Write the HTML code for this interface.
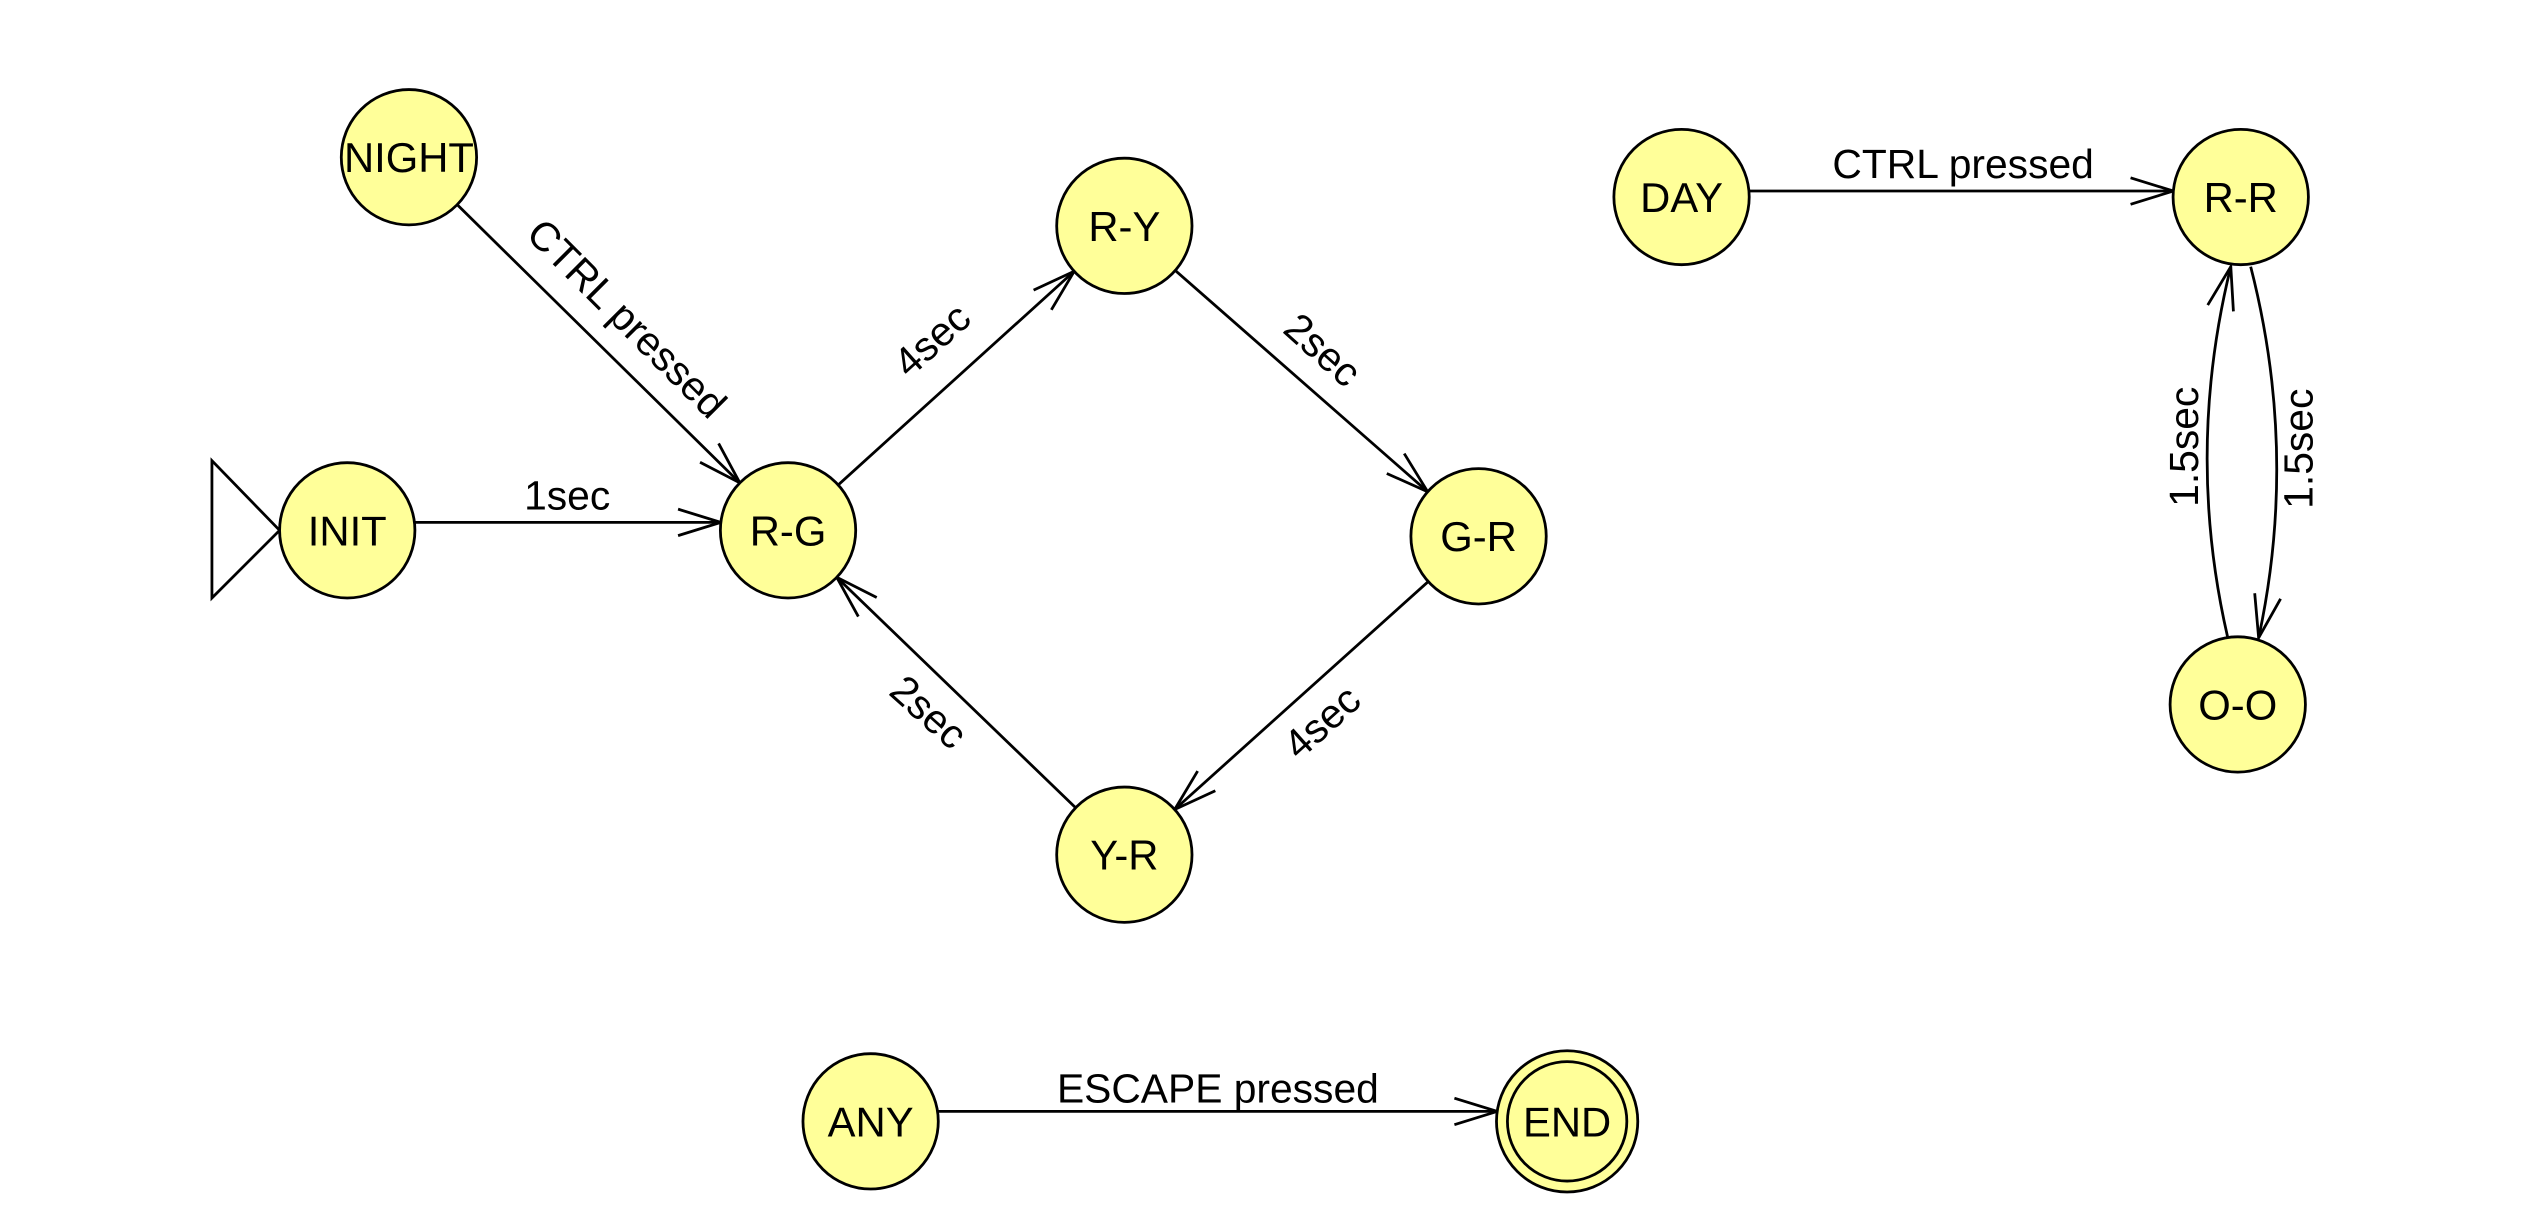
<!DOCTYPE html>
<html><head><meta charset="utf-8"><style>
html,body{margin:0;padding:0;background:#fff;}
svg{display:block;}
text{font-family:"Liberation Sans",Arial,sans-serif;fill:#000;}
</style></head><body>
<svg id="s" width="2533" height="1227" viewBox="0 0 2533 1227" xmlns="http://www.w3.org/2000/svg">
<g transform="scale(0.995)">
<g id="edges" stroke="#000" stroke-width="2.8" fill="none"></g>
<polygon points="213,463 213,601 281,533" fill="none" stroke="#000" stroke-width="2.8"/>
<g id="nodes" stroke="#000" stroke-width="2.8"></g>
<g font-size="41" text-anchor="middle">
<text transform="translate(620,330) rotate(45)">CTRL pressed</text>
<text x="570" y="512">1sec</text>
<text transform="translate(946,352) rotate(-42)">4sec</text>
<text transform="translate(1320,362) rotate(42)">2sec</text>
<text transform="translate(1338,736) rotate(-42)">4sec</text>
<text transform="translate(924,726) rotate(42)">2sec</text>
<text x="1973" y="179">CTRL pressed</text>
<text x="1224" y="1108">ESCAPE pressed</text>
<text transform="translate(2209,449) rotate(-90)">1.5sec</text>
<text transform="translate(2324,451) rotate(-90)">1.5sec</text>
</g>
</g>
</svg>
<script>
var N={NIGHT:[411,158],INIT:[349,533],RG:[792,533],RY:[1130,227],GR:[1486,539],YR:[1130,859],DAY:[1690,198],RR:[2252,198],OO:[2249,708],ANY:[875,1127],END:[1575,1127]};
var L={NIGHT:"NIGHT",INIT:"INIT",RG:"R-G",RY:"R-Y",GR:"G-R",YR:"Y-R",DAY:"DAY",RR:"R-R",OO:"O-O",ANY:"ANY",END:"END"};
var R=68,ns="http://www.w3.org/2000/svg";
var eg=document.getElementById('edges'),ng=document.getElementById('nodes');
function el(t,a,p){var e=document.createElementNS(ns,t);for(var k in a)e.setAttribute(k,a[k]);p.appendChild(e);return e;}
function arrow(x,y,ang){var l=45,h=0.3;
 el('path',{d:'M'+(x-l*Math.cos(ang-h))+','+(y-l*Math.sin(ang-h))+' L'+x+','+y+' L'+(x-l*Math.cos(ang+h))+','+(y-l*Math.sin(ang+h))},eg);}
function edge(a,b,yo,r2){var A=N[a],B=N[b];r2=r2||R;
 var ay=A[1],by=B[1];if(yo!==undefined){ay=yo;by=yo;}
 var dx=B[0]-A[0],dy=by-ay,d=Math.hypot(dx,dy),ux=dx/d,uy=dy/d;
 var ra=R,rb=r2;if(yo!==undefined){ra=Math.sqrt(R*R-(yo-A[1])*(yo-A[1]));rb=Math.sqrt(r2*r2-(yo-B[1])*(yo-B[1]));}
 var x1=A[0]+ux*ra,y1=ay+uy*ra,x2=B[0]-ux*rb,y2=by-uy*rb;
 el('line',{x1:x1,y1:y1,x2:x2,y2:y2},eg);arrow(x2,y2,Math.atan2(uy,ux));}
edge('NIGHT','RG');edge('INIT','RG',525);edge('RG','RY');edge('RY','GR');edge('GR','YR');edge('YR','RG');
edge('DAY','RR',192);edge('ANY','END',1117,71);
el('path',{d:'M2239,641 Q2196,455 2242,268'},eg);arrow(2242,268,Math.atan2(268-455,2242-2196));
el('path',{d:'M2262,268 Q2310,455 2270,641'},eg);arrow(2270,641,Math.atan2(641-455,2270-2310));
for(var k in N){var c=N[k];
 if(k=='END'){el('circle',{cx:c[0],cy:c[1],r:71,fill:'#ffff99'},ng);el('circle',{cx:c[0],cy:c[1],r:60,fill:'#ffff99'},ng);}
 else el('circle',{cx:c[0],cy:c[1],r:R,fill:'#ffff99'},ng);
 var t=el('text',{x:c[0],y:c[1]+15,'text-anchor':'middle','font-size':'42',stroke:'none'},ng);t.textContent=L[k];}
</script>
</body></html>
